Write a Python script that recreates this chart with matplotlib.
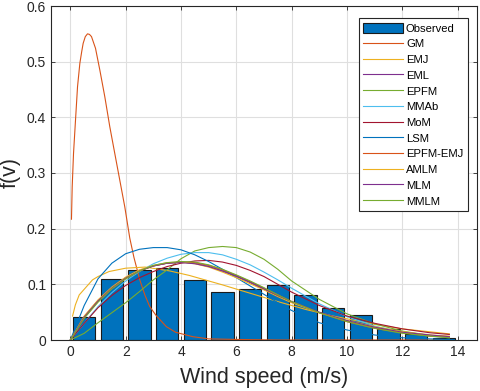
import numpy as np
import matplotlib.pyplot as plt

plt.rcParams['font.family'] = ['Liberation Sans', 'DejaVu Sans']

# observed histogram (bin centres, relative frequency)
bin_centres = [0.5, 1.5, 2.5, 3.5, 4.5, 5.5, 6.5, 7.5, 8.5, 9.5, 10.5, 11.5, 12.5, 13.5]
observed = [0.042, 0.109, 0.126, 0.130, 0.107, 0.086, 0.092, 0.099, 0.081, 0.058,
            0.045, 0.020, 0.010, 0.003]

# fitted pdfs
v = [0, 0.5, 1, 1.5, 2, 2.5, 3, 3.5, 4, 4.5, 5, 5.5, 6, 6.5, 7, 7.5, 8, 9, 10, 11, 12, 13, 13.7]

gm_v = [0.04, 0.066, 0.114, 0.186, 0.259, 0.343, 0.41, 0.463, 0.54, 0.62, 0.69, 0.764,
        0.909, 1.065, 1.245, 1.426, 1.606, 1.787, 1.968, 2.148, 2.3, 2.51, 2.7, 2.87,
        3.1, 3.47, 3.8, 4.42, 5.0, 6.0, 7.5, 10, 13.7]
gm = [0.217, 0.275, 0.335, 0.395, 0.455, 0.497, 0.518, 0.533, 0.545, 0.550, 0.549,
      0.545, 0.524, 0.485, 0.437, 0.383, 0.335, 0.287, 0.239, 0.183, 0.148, 0.108,
      0.080, 0.060, 0.044, 0.024, 0.014, 0.006, 0.002, 0.001, 0, 0, 0]

emj_v = [0.08, 0.18, 0.32, 0.8, 1.0, 1.4, 2.0, 2.7, 3.6, 4.3, 5.5, 6.5, 7.5, 8.5, 9.5,
         11, 12, 13.7]
emj = [0.043, 0.063, 0.081, 0.108, 0.114, 0.123, 0.129, 0.131, 0.124, 0.116, 0.099,
       0.084, 0.069, 0.055, 0.043, 0.028, 0.020, 0.011]

eml = [0, 0.042, 0.071, 0.094, 0.112, 0.125, 0.133, 0.138, 0.140, 0.138, 0.132, 0.124,
       0.114, 0.103, 0.091, 0.079, 0.068, 0.049, 0.034, 0.022, 0.014, 0.008, 0.006]
epfm = [0, 0.012, 0.031, 0.049, 0.067, 0.087, 0.108, 0.126, 0.146, 0.160, 0.166, 0.168,
        0.166, 0.158, 0.145, 0.127, 0.106, 0.073, 0.047, 0.029, 0.016, 0.008, 0.005]
mmab = [0, 0.030, 0.060, 0.085, 0.106, 0.123, 0.137, 0.147, 0.154, 0.157, 0.157, 0.153,
        0.145, 0.135, 0.122, 0.108, 0.093, 0.065, 0.042, 0.025, 0.014, 0.007, 0.004]
mom = [0, 0.030, 0.058, 0.080, 0.098, 0.112, 0.123, 0.132, 0.138, 0.142, 0.143, 0.140,
       0.134, 0.125, 0.114, 0.100, 0.086, 0.062, 0.043, 0.030, 0.020, 0.013, 0.010]
lsm = [0, 0.062, 0.110, 0.138, 0.155, 0.163, 0.166, 0.166, 0.162, 0.153, 0.141, 0.127,
       0.112, 0.097, 0.082, 0.067, 0.053, 0.031, 0.018, 0.009, 0.004, 0.002, 0.001]
epfm_emj = [0, 0.040, 0.069, 0.092, 0.110, 0.124, 0.133, 0.138, 0.140, 0.139, 0.134, 0.126,
            0.116, 0.105, 0.093, 0.081, 0.069, 0.049, 0.033, 0.021, 0.013, 0.007, 0.005]
amlm = [0, 0.043, 0.072, 0.095, 0.113, 0.126, 0.134, 0.139, 0.140, 0.137, 0.131, 0.122,
        0.112, 0.101, 0.090, 0.078, 0.067, 0.049, 0.035, 0.024, 0.015, 0.009, 0.007]
mlm = [0, 0.041, 0.070, 0.093, 0.111, 0.124, 0.133, 0.138, 0.139, 0.137, 0.132, 0.124,
       0.115, 0.104, 0.092, 0.080, 0.069, 0.050, 0.035, 0.023, 0.014, 0.009, 0.006]
mmlm = [0, 0.039, 0.068, 0.092, 0.110, 0.124, 0.134, 0.139, 0.141, 0.140, 0.135, 0.127,
        0.117, 0.106, 0.094, 0.081, 0.069, 0.049, 0.033, 0.021, 0.012, 0.007, 0.004]

c_blue = '#0072BD'
c_orange = '#D95319'
c_yellow = '#EDB120'
c_purple = '#7E2F8E'
c_green = '#77AC30'
c_lblue = '#4DBEEE'
c_red = '#A2142F'

fig = plt.figure(figsize=(4.8, 3.91), dpi=100)
ax = fig.add_axes([51/480, 51/391, 426/480, 334/391])

bars = ax.bar(bin_centres, observed, width=0.8, color=c_blue, edgecolor='#1a1a1a',
              linewidth=0.8, label='Observed')

lw = 0.8
lines = []
lines += ax.plot(gm_v, gm, color=c_orange, lw=lw, label='GM')
lines += ax.plot(emj_v, emj, color=c_yellow, lw=lw, label='EMJ')
lines += ax.plot(v, eml, color=c_purple, lw=lw, label='EML')
lines += ax.plot(v, epfm, color=c_green, lw=lw, label='EPFM')
lines += ax.plot(v, mmab, color=c_lblue, lw=lw, label='MMAb')
lines += ax.plot(v, mom, color=c_red, lw=lw, label='MoM')
lines += ax.plot(v, lsm, color=c_blue, lw=lw, label='LSM')
lines += ax.plot(v, epfm_emj, color=c_orange, lw=lw, label='EPFM-EMJ')
lines += ax.plot(v, amlm, color=c_yellow, lw=lw, label='AMLM')
lines += ax.plot(v, mlm, color=c_purple, lw=lw, label='MLM')
lines += ax.plot(v, mmlm, color=c_green, lw=lw, label='MMLM')

ax.set_xlim(-0.7, 14.7)
ax.set_ylim(0, 0.6)
ax.set_xticks(np.arange(0, 15, 2))
ax.set_yticks(np.arange(0, 0.61, 0.1))
ax.set_yticklabels(['0', '0.1', '0.2', '0.3', '0.4', '0.5', '0.6'])

ax.set_axisbelow(True)
ax.grid(True, color='#dfdfdf', linewidth=0.8)
for s in ax.spines.values():
    s.set_color('#262626')
    s.set_linewidth(0.8)
ax.tick_params(which='both', direction='in', top=True, right=True, length=3,
               width=0.6, color='#262626', labelcolor='#262626', labelsize=10)

ax.set_xlabel('Wind speed (m/s)', fontsize=15.5, color='#262626', labelpad=6)
ax.set_ylabel('f(v)', fontsize=15.5, color='#262626', labelpad=4)

handles = [bars] + lines
leg = ax.legend(handles, [h.get_label() for h in handles],
                loc='upper right', bbox_to_anchor=(467.7/480, 1 - 18.3/391),
                bbox_transform=fig.transFigure, borderaxespad=0, fontsize=8.1,
                handlelength=3.5, handleheight=1.0, handletextpad=0.3,
                labelspacing=0.43, fancybox=False, framealpha=1, borderpad=0.4)
leg.get_frame().set_edgecolor('#262626')
leg.get_frame().set_linewidth(0.8)

plt.savefig('out.png', dpi=100)
